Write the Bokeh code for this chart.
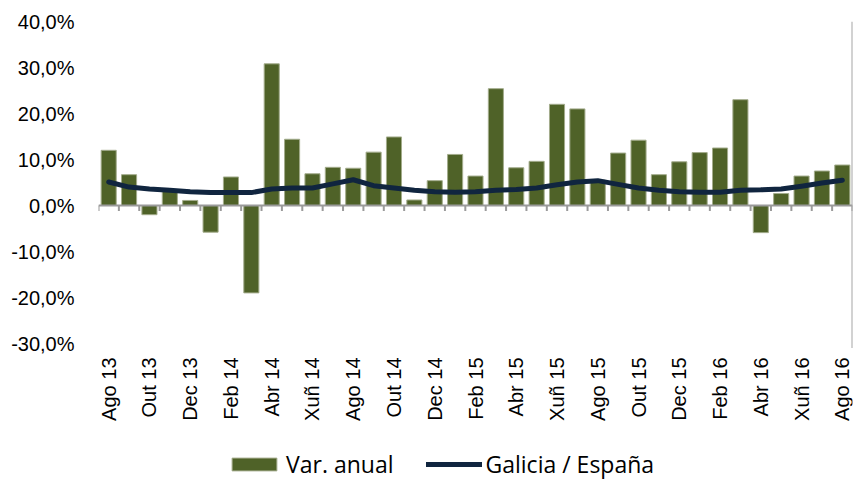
from bokeh.plotting import figure
from bokeh.models import (Range1d, FixedTicker, Legend, LegendItem)
from bokeh.core.properties import value
from bokeh.embed import file_html
from bokeh.resources import INLINE
import numpy as np

months = ["Ago 13", "Set 13", "Out 13", "Nov 13", "Dec 13",
          "Xan 14", "Feb 14", "Mar 14", "Abr 14", "Mai 14", "Xuñ 14", "Xul 14",
          "Ago 14", "Set 14", "Out 14", "Nov 14", "Dec 14",
          "Xan 15", "Feb 15", "Mar 15", "Abr 15", "Mai 15", "Xuñ 15", "Xul 15",
          "Ago 15", "Set 15", "Out 15", "Nov 15", "Dec 15",
          "Xan 16", "Feb 16", "Mar 16", "Abr 16", "Mai 16", "Xuñ 16", "Xul 16",
          "Ago 16"]
var_anual = [12.0, 6.7, -2.0, 3.4, 1.1, -5.8, 6.2, -19.0, 30.8, 14.4, 6.9, 8.3,
             8.1, 11.6, 14.9, 1.2, 5.4, 11.1, 6.4, 25.4, 8.2, 9.6, 22.0, 21.0,
             5.5, 11.4, 14.2, 6.7, 9.5, 11.5, 12.5, 23.0, -5.9, 2.6, 6.4, 7.5, 8.8]
galicia_espana = [5.1, 4.0, 3.6, 3.3, 3.0, 2.8, 2.8, 2.8, 3.6, 3.8, 3.8, 4.7,
                  5.6, 4.3, 3.8, 3.3, 3.0, 2.9, 3.0, 3.3, 3.5, 3.8, 4.5, 5.1,
                  5.4, 4.6, 3.8, 3.3, 3.0, 2.9, 2.9, 3.3, 3.4, 3.6, 4.2, 4.9, 5.5]
y_ticks = [-30, -20, -10, 0, 10, 20, 30, 40]
y_tick_labels = ["-30,0%", "-20,0%", "-10,0%", "0,0%", "10,0%", "20,0%", "30,0%", "40,0%"]
label_step = 2

n = len(months)
x = list(range(n))

W, H = 854, 480
FRAME_LEFT, FRAME_RIGHT, FRAME_TOP = 98, 852, 21
PLOT_BOTTOM = 343            # pixel row of the lowest y tick
px_per_unit = (PLOT_BOTTOM - FRAME_TOP) / (y_ticks[-1] - y_ticks[0])
y_bottom = y_ticks[0] - (H - PLOT_BOTTOM) / px_per_unit   # frame extended to hold labels & legend

p = figure(width=W, height=H, output_backend="svg", toolbar_location=None,
           x_range=Range1d(-0.5, n - 0.5), y_range=Range1d(y_bottom, y_ticks[-1]),
           min_border_left=FRAME_LEFT, min_border_right=W - FRAME_RIGHT,
           min_border_top=FRAME_TOP, min_border_bottom=0)
p.outline_line_color = None
p.xgrid.visible = False
p.ygrid.visible = False
p.xaxis.visible = False

bars = p.vbar(x=x, top=var_anual, bottom=0, width=0.74,
              fill_color="#4F6228", line_color="#A3AC8C", line_width=1)

# zero axis line with tick marks between categories
p.segment(x0=[-0.5], y0=[0], x1=[n - 0.5], y1=[0], line_color="#9A9A9A", line_width=2)
bounds = np.arange(n + 1) - 0.5
p.segment(x0=bounds, y0=0, x1=bounds, y1=-1.2, line_color="#9A9A9A", line_width=2)
# right border line
p.segment(x0=[n - 0.5], y0=[y_ticks[0] - 1], x1=[n - 0.5], y1=[y_ticks[-1]],
          line_color="#A6A6A6", line_width=2)

line = p.line(x=x, y=galicia_espana, line_color="#10253F", line_width=5,
              line_join="round", line_cap="round")

font = "Liberation Sans"
# y axis
p.yaxis.ticker = FixedTicker(ticks=y_ticks)
p.yaxis.major_label_overrides = {t: l for t, l in zip(y_ticks, y_tick_labels)}
p.yaxis.axis_line_color = None
p.yaxis.major_tick_line_color = None
p.yaxis.minor_tick_line_color = None
p.yaxis.major_label_standoff = 18
p.yaxis.major_label_text_font = font
p.yaxis.major_label_text_font_size = "20px"
p.yaxis.major_label_text_color = "#000000"

# category labels (every second month), vertical, below the lowest tick
shown = list(range(0, n, label_step))
p.text(x=shown, y=[y_ticks[0]] * len(shown), text=[months[i] for i in shown],
       angle=np.pi / 2, text_align="right", text_baseline="middle", y_offset=14,
       text_font=value(font), text_font_size="20px", text_color="#000000")

legend = Legend(items=[LegendItem(label="Var. anual", renderers=[bars]),
                       LegendItem(label="Galicia / España", renderers=[line])],
                orientation="horizontal", location=(128, 0),
                glyph_width=56, glyph_height=16, label_standoff=4, spacing=32,
                padding=0, margin=0, border_line_color=None, background_fill_alpha=0,
                label_text_font="Open Sans", label_text_font_size="23px",
                label_text_color="#000000")
p.add_layout(legend, "center")

open("out.html", "w").write(file_html(p, INLINE))
